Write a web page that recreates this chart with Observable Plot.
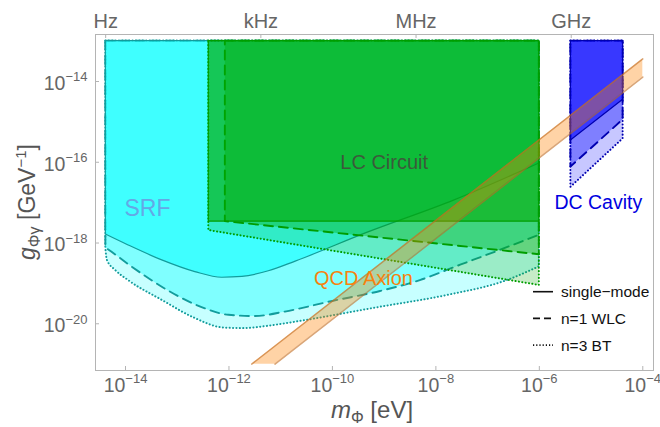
<!DOCTYPE html>
<html><head><meta charset="utf-8">
<script src="https://cdn.jsdelivr.net/npm/d3@7"></script>
<script src="https://cdn.jsdelivr.net/npm/@observablehq/plot@0.6"></script>
<style>
body{margin:0;background:#fff;}
#chart{position:relative;width:660px;height:427px;}
</style></head><body><div id="chart"></div>
<script>
// ---- data: log10 exponents (mass m in eV, coupling g in GeV^-1)
const srfSolidM = [-14.38, -13.94, -13.29, -12.65, -12.13, -11.74, -11.23, -10.71, -9.33, -7.65, -6.0];
const srfSolidG = [-17.79, -18.06, -18.43, -18.72, -18.86, -18.84, -18.70, -18.46, -17.75, -16.95, -16.03];
const srfWlcM = [-14.38, -14.26, -13.90, -13.48, -13.0, -12.52, -12.0, -11.49, -10.91, -10.04, -9.07, -8.30, -7.52, -6.75, -6.0];
const srfWlcG = [-18.12, -18.23, -18.57, -18.94, -19.31, -19.60, -19.79, -19.82, -19.71, -19.46, -19.20, -18.93, -18.55, -18.18, -17.81];
const srfBtM = [-14.38, -14.35, -14.19, -13.94, -13.29, -12.65, -12.13, -11.74, -11.23, -10.71, -9.07, -7.78, -6.62, -6.0];
const srfBtG = [-18.14, -18.43, -18.68, -18.93, -19.42, -19.87, -20.10, -20.12, -20.06, -19.96, -19.59, -19.30, -18.93, -18.59];

const lcSolidM = [-12.39, -6.0];
const lcSolidG = [-17.47, -17.47];
const lcWlcM = [-12.07, -6.0];
const lcWlcG = [-17.47, -18.29];
const lcBtM = [-12.39, -6.0];
const lcBtG = [-17.69, -19.05];

const dcSolidM = [-5.39, -4.38];
const dcSolidG = [-15.46, -14.45];
const dcWlcM = [-5.39, -4.38];
const dcWlcG = [-16.12, -14.95];
const dcBtM = [-5.39, -4.38];
const dcBtG = [-16.62, -15.42];

const regionTopG = -13.0;

const qcdM = [-11.56, -11.11, -4.0];
const qcdLowG = [-21.0, -21.0, -13.89];
const qcdHighG = [-21.0, -20.55, -13.44];

const xTicks = [1e-14, 1e-12, 1e-10, 1e-8, 1e-6, 1e-4];
const xTickExp = ["\u221214", "\u221212", "\u221210", "\u22128", "\u22126", "\u22124"];
const yTicks = [1e-14, 1e-16, 1e-18, 1e-20];
const yTickExp = ["\u221214", "\u221216", "\u221218", "\u221220"];
const freqTicks = [4.136e-15, 4.136e-12, 4.136e-9, 4.136e-6];
const freqLabels = ["Hz", "kHz", "MHz", "GHz"];

const regionNames = ["SRF", "LC Circuit", "QCD Axion", "DC Cavity"];
const regionLabelM = [-13.575, -9.0, -9.40, -4.86];
const regionLabelG = [-17.15, -16.0, -18.88, -17.01];

const legendLabels = ["single\u2212mode", "n=1 WLC", "n=3 BT"];

// ---- helpers
const pts = (ms, gs) => ms.map((m, i) => ({m: 10 ** m, g: 10 ** gs[i]}));
const topVal = 10 ** regionTopG;
const FONT = "'Liberation Sans', Arial, Helvetica, sans-serif";

const DOT = {strokeDasharray: "0.1,3.3", strokeLinecap: "round", strokeWidth: 2};
const DASH = {strokeDasharray: "9,6", strokeWidth: 1.9};
const SOLID = {strokeWidth: 1.2};

function region(ms, gs, fill, op, stroke, style, curve) {
  return Plot.areaY(pts(ms, gs), {x: "m", y1: "g", y2: () => topVal, fill, fillOpacity: op,
    stroke, ...style, curve: curve || "linear"});
}

const cyanS = "#139c9c", greenS = "#009d00", blueS = "#0000b0";

const qcdArea = pts(qcdM, qcdLowG).map((d, i) => ({m: d.m, lo: d.g, hi: 10 ** qcdHighG[i]}));
const qcdUpper = pts(qcdM, qcdHighG);
const qcdLower = pts(qcdM, qcdLowG).slice(1);

const labelRow = i => [{m: 10 ** regionLabelM[i], g: 10 ** regionLabelG[i], t: regionNames[i]}];

const plot = Plot.plot({
  width: 660, height: 427,
  marginLeft: 95, marginRight: 7, marginTop: 34, marginBottom: 57,
  x: {type: "log", domain: [10 ** -14.58, 10 ** -3.793]},
  y: {type: "log", domain: [10 ** -21.157, 10 ** -12.836]},
  style: {fontFamily: FONT, background: "#fff"},
  marks: [
    // SRF
    region(srfBtM, srfBtG, "#00ffff", 0.22, cyanS, DOT, "monotone-x"),
    region(srfWlcM, srfWlcG, "#00ffff", 0.36, cyanS, DASH, "monotone-x"),
    region(srfSolidM, srfSolidG, "#00ffff", 0.5, cyanS, SOLID, "monotone-x"),
    // LC circuit
    region(lcBtM, lcBtG, "#00aa00", 0.22, greenS, DOT),
    region(lcWlcM, lcWlcG, "#00aa00", 0.36, greenS, DASH),
    region(lcSolidM, lcSolidG, "#00aa00", 0.56, greenS, SOLID),
    // DC cavity
    region(dcBtM, dcBtG, "#0000ff", 0.22, blueS, DOT),
    region(dcWlcM, dcWlcG, "#0000ff", 0.36, blueS, DASH),
    region(dcSolidM, dcSolidG, "#0000ff", 0.56, blueS, SOLID),
    // QCD axion band
    Plot.areaY(qcdArea, {x: "m", y1: "lo", y2: "hi", fill: "#ff8000", fillOpacity: 0.35}),
    Plot.line(qcdUpper, {x: "m", y: "g", stroke: "#c06a20", strokeOpacity: 0.6, strokeWidth: 1.5}),
    Plot.line(qcdLower, {x: "m", y: "g", stroke: "#c06a20", strokeOpacity: 0.6, strokeWidth: 1.5}),
    // labels
    Plot.text(labelRow(0), {x: "m", y: "g", text: "t", fill: "#64a8e6", fontSize: 23}),
    Plot.text(labelRow(1), {x: "m", y: "g", text: "t", fill: "#3b5a3b", fontSize: 20}),
    Plot.text(labelRow(2), {x: "m", y: "g", text: "t", fill: "#f7820f", fontSize: 20}),
    Plot.text(labelRow(3), {x: "m", y: "g", text: "t", fill: "#0000e0", fontSize: 19.5}),
    // frame & ticks
    Plot.frame({stroke: "#b4b4b4"}),
    Plot.tickX(xTicks, {x: d => d, stroke: "#b4b4b4", insetTop: 332}),
    Plot.tickY(yTicks, {y: d => d, stroke: "#b4b4b4", insetRight: 554}),
    Plot.tickX(freqTicks, {x: d => d, stroke: "#b4b4b4", insetBottom: 332}),
    Plot.axisX({ticks: xTicks, tickFormat: d => "10^" + xTickExp[xTicks.indexOf(d)], tickSize: 0, tickPadding: 7.5,
      fontSize: 19.5, fill: "#666", label: null}),
    Plot.axisY({ticks: yTicks, tickFormat: d => "10^" + yTickExp[yTicks.indexOf(d)], tickSize: 0, tickPadding: 8,
      fontSize: 19.5, fill: "#666", dy: 2, label: null}),
    Plot.text(freqTicks, {x: d => d, text: (d, i) => freqLabels[i], frameAnchor: "top", lineAnchor: "middle",
      dy: -12.5, fontSize: 20, fill: "#666"})
  ]
});

document.getElementById("chart").appendChild(plot);
const svg = d3.select(plot);

// superscripts on tick labels
svg.selectAll('g[aria-label="x-axis tick label"] text, g[aria-label="y-axis tick label"] text').each(function () {
  const t = this.textContent;
  if (!t.includes("^")) return;
  const [b, e] = t.split("^");
  const s = d3.select(this);
  s.attr("font-size", 19.5);
  s.text(b);
  s.append("tspan").attr("dy", -8.4).attr("font-size", 13).text(e);
});

// axis titles
const xt = svg.append("text").attr("x", 372).attr("y", 418).attr("text-anchor", "middle")
  .attr("font-size", 24).attr("fill", "#555").attr("font-family", FONT);
xt.append("tspan").attr("font-style", "italic").text("m");
xt.append("tspan").attr("font-size", 16).attr("dy", 5).text("\u03a6");
xt.append("tspan").attr("dy", -5).text(" [eV]");

const yt = svg.append("text").attr("transform", "translate(35,202) rotate(-90)").attr("text-anchor", "middle")
  .attr("font-size", 23).attr("fill", "#555").attr("font-family", FONT);
yt.append("tspan").attr("font-style", "italic").text("g");
yt.append("tspan").attr("font-size", 16).attr("dy", 5).text("\u03a6\u03b3");
yt.append("tspan").attr("dy", -5).text(" [GeV");
yt.append("tspan").attr("font-size", 15).attr("dy", -9).text("\u22121");
yt.append("tspan").attr("dy", 9).text("]");

// legend
const legendDash = [null, "7,4", "1.2,2"];
legendLabels.forEach((lab, i) => {
  const y = 291.7 + i * 26.7;
  const ln = svg.append("line").attr("x1", 533).attr("x2", 553).attr("y1", y).attr("y2", y)
    .attr("stroke", "#111").attr("stroke-width", 1.6);
  if (legendDash[i]) ln.attr("stroke-dasharray", legendDash[i]);
  svg.append("text").attr("x", 561).attr("y", y).attr("dy", "0.35em").attr("font-size", 15.5)
    .attr("text-anchor", "start").attr("fill", "#111").attr("font-family", FONT).text(lab);
});
</script></body></html>
